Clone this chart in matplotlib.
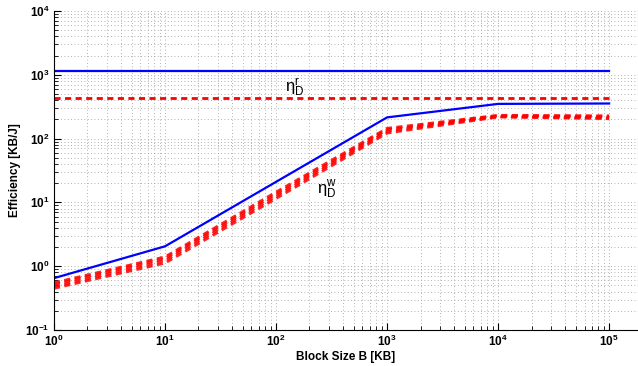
import matplotlib
matplotlib.use("Agg")
import matplotlib.pyplot as plt
import numpy as np

plt.rcParams['font.family'] = ['Liberation Sans', 'DejaVu Sans']
plt.rcParams['mathtext.fontset'] = 'custom'
plt.rcParams['mathtext.rm'] = 'Liberation Sans'
plt.rcParams['mathtext.bf'] = 'Liberation Sans:bold'
plt.rcParams['mathtext.it'] = 'Liberation Sans'

block_size = [1, 10, 100, 1000, 1e4, 1e5]
read_blue = [1150, 1150, 1150, 1150, 1150, 1150]
read_red = [435, 435, 435, 435, 435, 435]
write_blue = [0.65, 2.05, 21, 215, 350, 355]
write_red = [
    [0.55, 1.40, 14.5, 145, 232, 228],
    [0.52, 1.32, 13.5, 138, 228, 220],
    [0.48, 1.22, 12.5, 130, 222, 212],
    [0.45, 1.12, 11.5, 122, 218, 205],
]
xticks = [1, 10, 100, 1000, 1e4, 1e5]
xticklabels = ['$\\mathbf{10^{0}}$', '$\\mathbf{10^{1}}$', '$\\mathbf{10^{2}}$',
               '$\\mathbf{10^{3}}$', '$\\mathbf{10^{4}}$', '$\\mathbf{10^{5}}$']
yticks = [0.1, 1, 10, 100, 1000, 1e4]
yticklabels = ['$\\mathbf{10^{-1}}$', '$\\mathbf{10^{0}}$', '$\\mathbf{10^{1}}$',
               '$\\mathbf{10^{2}}$', '$\\mathbf{10^{3}}$', '$\\mathbf{10^{4}}$']

fig = plt.figure(figsize=(6.38, 3.66), dpi=100)
ax = fig.add_axes([54/638, 1-330/366, 1-54/638, 319/366])
ax.set_xscale('log')
ax.set_yscale('log')
ax.set_xlim(1, 10**5.26)
ax.set_ylim(0.1, 1e4)

ax.plot(block_size, read_blue, color='#0000ff', lw=1.6)
ax.plot(block_size, read_red, color='#ff0000', lw=2.0, dashes=(2.2, 1.6))
for s in write_red:
    ax.plot(block_size, s, color='#ff0000', lw=2.0, dashes=(2.2, 1.6), alpha=0.85)
ax.plot(block_size, write_blue, color='#0000ff', lw=1.6)

ax.grid(True, which='both', linestyle=(0, (1, 3)), color='#999999', lw=0.6)
ax.spines['top'].set_visible(False)
ax.spines['right'].set_visible(False)
ax.set_xticks(xticks)
ax.set_xticklabels(xticklabels)
ax.set_yticks(yticks)
ax.set_yticklabels(yticklabels)
ax.tick_params(which='both', direction='in', labelsize=8.5, pad=3)
ax.tick_params(which='major', length=5)
ax.tick_params(which='minor', length=3)
ax.set_xlabel('Block Size B [KB]', fontsize=8.5, fontweight='bold', labelpad=1)
ax.set_ylabel('Efficiency [KB/J]', fontsize=8.5, fontweight='bold', labelpad=3)

ax.text(120, 640, r'$\mathregular{\eta_D^r}$', fontsize=12, ha='left', va='center')
ax.text(235, 16, r'$\mathregular{\eta_D^w}$', fontsize=12, ha='left', va='center')

fig.savefig('out.png', dpi=100)
